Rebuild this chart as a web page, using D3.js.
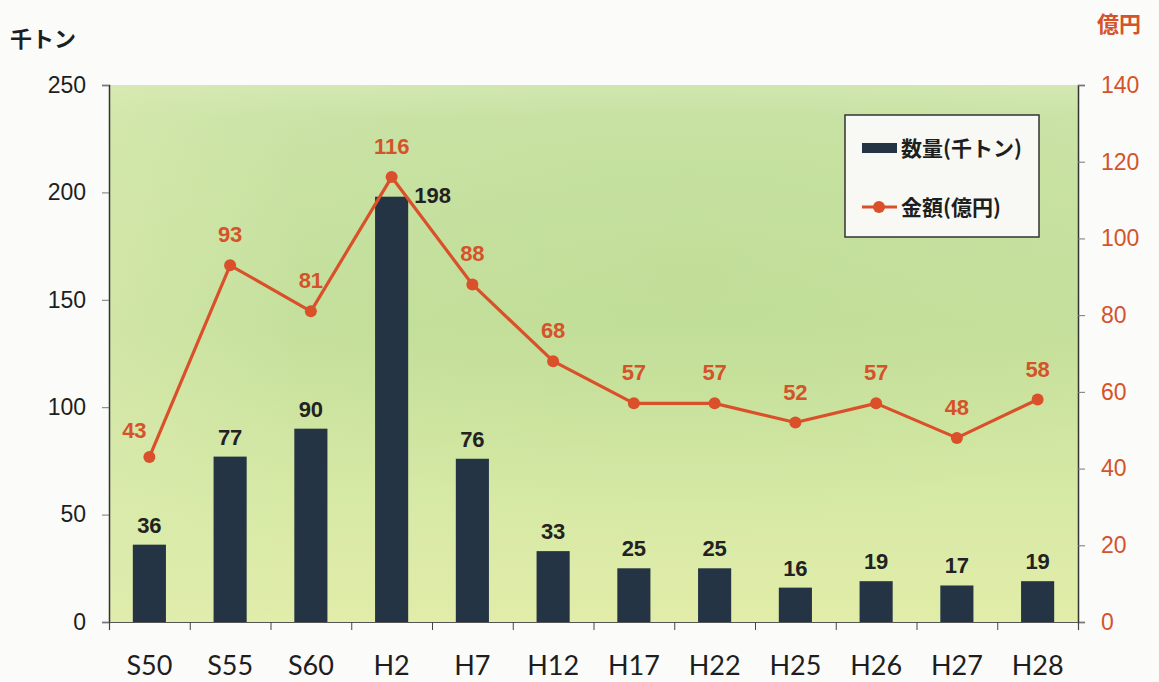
<!DOCTYPE html>
<html><head><meta charset="utf-8">
<script src="https://cdn.jsdelivr.net/npm/d3@7/dist/d3.min.js"></script>
<style>
html,body{margin:0;padding:0;background:#fbfbfa;}
svg{display:block;}
</style></head>
<body>
<div id="chart"></div>
<script>
const categories = ["S50","S55","S60","H2","H7","H12","H17","H22","H25","H26","H27","H28"];
const quantity = [36,77,90,198,76,33,25,25,16,19,17,19];   // 千トン
const amount = [43,93,81,116,88,68,57,57,52,57,48,58];     // 億円
const leftTicks = [0,50,100,150,200,250];
const rightTicks = [0,20,40,60,80,100,120,140];
const seriesNames = ["数量(千トン)","金額(億円)"];
const unitLeft = "千トン", unitRight = "億円";

const W = 1159, H = 682;
const m = {left:109, right:81, top:85, bottom:60};
const iw = W - m.left - m.right, ih = H - m.top - m.bottom;
const barColor = "#243445", lineColor = "#d9502a", labelOrange = "#d4532a";
const numFont = "'Liberation Sans', Arial, sans-serif";
const jpFont = "'Noto Sans CJK JP', sans-serif";

const svg = d3.select("#chart").append("svg").attr("width", W).attr("height", H);
const defs = svg.append("defs");
const g1 = defs.append("linearGradient").attr("id","bg").attr("x1",0).attr("y1",0).attr("x2",0).attr("y2",1);
[[0,"#d3e8b2"],[0.06,"#cae3a6"],[0.45,"#c5e09c"],[0.8,"#d8eaa6"],[1,"#e1eda9"]].forEach(d=>g1.append("stop").attr("offset",d[0]).attr("stop-color",d[1]));
const g2 = defs.append("radialGradient").attr("id","glow").attr("cx",0.6).attr("cy",0.35).attr("r",0.5);
g2.append("stop").attr("offset",0).attr("stop-color","#b8d98e").attr("stop-opacity",0.35);
g2.append("stop").attr("offset",1).attr("stop-color","#b8d98e").attr("stop-opacity",0);
const g3 = defs.append("linearGradient").attr("id","leftfade").attr("x1",0).attr("y1",0).attr("x2",1).attr("y2",0);
g3.append("stop").attr("offset",0).attr("stop-color","#dcebb0").attr("stop-opacity",0.5);
g3.append("stop").attr("offset",0.2).attr("stop-color","#dcebb0").attr("stop-opacity",0);

const g = svg.append("g").attr("transform",`translate(${m.left},${m.top})`);
g.append("rect").attr("width",iw).attr("height",ih).attr("fill","url(#bg)");
g.append("rect").attr("width",iw).attr("height",ih).attr("fill","url(#glow)");
g.append("rect").attr("width",iw).attr("height",ih).attr("fill","url(#leftfade)");

const x = d3.scaleBand().domain(categories).range([0,iw]).paddingInner(0).paddingOuter(0);
const yL = d3.scaleLinear().domain([0,250]).range([ih,0]);
const yR = d3.scaleLinear().domain([0,140]).range([ih,0]);
const bw = x.bandwidth()*0.41;

// bars
g.selectAll(".bar").data(quantity).join("rect")
  .attr("x",(d,i)=>x(categories[i])+x.bandwidth()/2-bw/2)
  .attr("y",d=>yL(d)).attr("width",bw).attr("height",d=>ih-yL(d))
  .attr("fill",barColor);

// bar labels
g.selectAll(".blab").data(quantity).join("text")
  .attr("x",(d,i)=>x(categories[i])+x.bandwidth()/2 + (d>150?41:0))
  .attr("y",d=>yL(d)-(d>150?-6:12))
  .attr("text-anchor","middle").attr("font-family",numFont).attr("font-size",22).attr("font-weight","bold")
  .attr("fill","#222").text(d=>d);

// line
const line = d3.line().x((d,i)=>x(categories[i])+x.bandwidth()/2).y(d=>yR(d));
g.append("path").datum(amount).attr("d",line).attr("fill","none").attr("stroke",lineColor).attr("stroke-width",3.2).attr("stroke-linejoin","round");
g.selectAll(".pt").data(amount).join("circle")
  .attr("cx",(d,i)=>x(categories[i])+x.bandwidth()/2).attr("cy",d=>yR(d)).attr("r",6)
  .attr("fill",lineColor);
g.selectAll(".llab").data(amount).join("text")
  .attr("x",(d,i)=>x(categories[i])+x.bandwidth()/2 + (i===0?-15:0))
  .attr("y",(d,i)=>yR(d)-(i===0?19:23))
  .attr("text-anchor","middle").attr("font-family",numFont).attr("font-size",22).attr("font-weight","bold")
  .attr("fill",labelOrange).text(d=>d);

// axes
const axL = g.append("g").call(d3.axisLeft(yL).tickValues(leftTicks).tickSize(7).tickPadding(16));
axL.select(".domain").attr("stroke","#333").attr("stroke-width",1.5);
axL.selectAll(".tick line").attr("stroke","#777");
axL.selectAll("text").attr("font-family",numFont).attr("font-size",23).attr("fill","#1e1e1e");

const axR = g.append("g").attr("transform",`translate(${iw},0)`).call(d3.axisRight(yR).tickValues(rightTicks).tickSize(7).tickPadding(16));
axR.select(".domain").attr("stroke","#333").attr("stroke-width",1.5);
axR.selectAll(".tick line").attr("stroke","#777");
axR.selectAll("text").attr("font-family",numFont).attr("font-size",23).attr("fill",labelOrange);

const xb = d3.scaleLinear().domain([0,categories.length]).range([0,iw]);
const axB = g.append("g").attr("transform",`translate(0,${ih})`)
  .call(d3.axisBottom(xb).tickValues(d3.range(categories.length+1)).tickSize(8).tickFormat(""));
axB.select(".domain").attr("stroke","#555").attr("stroke-width",1.2);
axB.selectAll(".tick line").attr("stroke","#444");
g.append("g").selectAll("text").data(categories).join("text")
  .attr("x",d=>x(d)+x.bandwidth()/2).attr("y",ih+53)
  .attr("text-anchor","middle").attr("font-family","Lato, 'Open Sans', sans-serif").attr("font-size",27)
  .attr("fill","#1e1e1e").text(d=>d);

// units
svg.append("text").attr("x",10).attr("y",47).attr("font-family",jpFont).attr("font-size",22).attr("font-weight","bold").attr("fill","#1e1e1e").text(unitLeft);
svg.append("text").attr("x",1097).attr("y",32).attr("font-family",jpFont).attr("font-size",22).attr("font-weight","bold").attr("fill",labelOrange).text(unitRight);

// legend
const lg = svg.append("g");
lg.append("rect").attr("x",845).attr("y",115).attr("width",194).attr("height",122).attr("fill","#f8f9f4").attr("stroke","#333").attr("stroke-width",1.5);
lg.append("rect").attr("x",862).attr("y",143).attr("width",35).attr("height",10).attr("fill",barColor);
lg.append("line").attr("x1",862).attr("x2",897).attr("y1",207).attr("y2",207).attr("stroke",lineColor).attr("stroke-width",3);
lg.append("circle").attr("cx",879).attr("cy",207).attr("r",6).attr("fill",lineColor);
lg.selectAll(".lt").data(seriesNames).join("text")
  .attr("x",901).attr("y",(d,i)=>i?215:156)
  .attr("font-family",jpFont).attr("font-size",21).attr("font-weight","bold").attr("fill","#1e1e1e").text(d=>d);
</script>
</body></html>
